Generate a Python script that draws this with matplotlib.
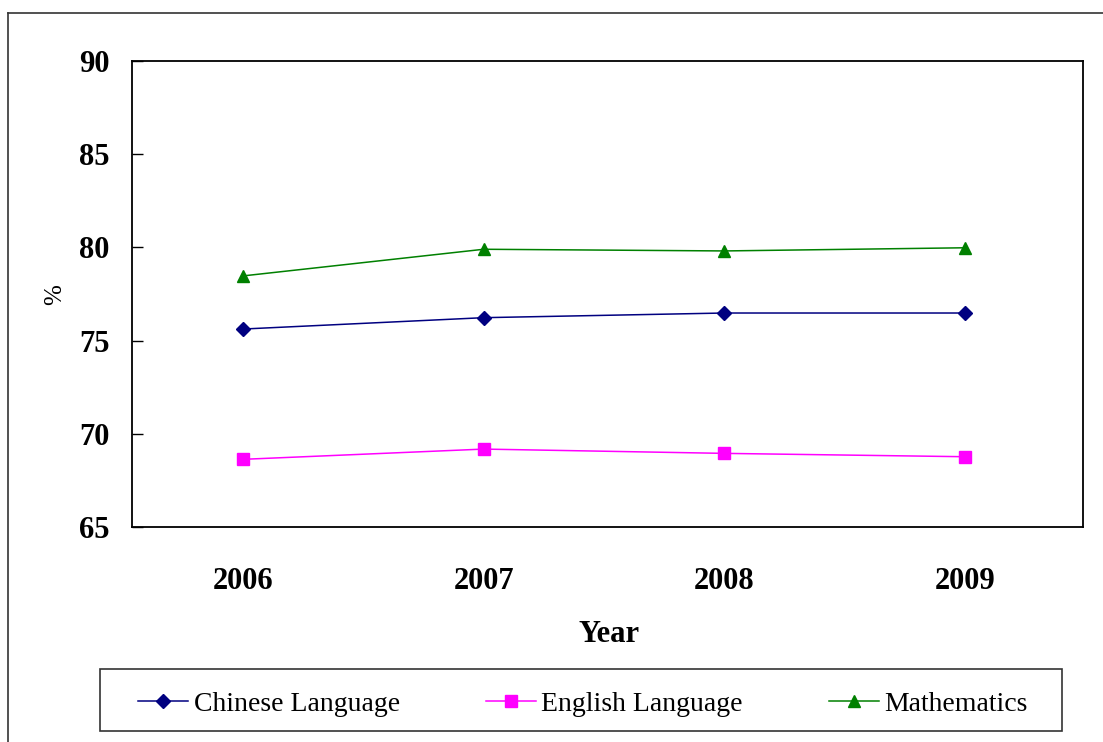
import matplotlib
matplotlib.use("Agg")
import matplotlib.pyplot as plt
from matplotlib.lines import Line2D
from matplotlib.patches import Rectangle

years = ["2006", "2007", "2008", "2009"]
chinese = [75.62, 76.23, 76.48, 76.48]
english = [68.63, 69.18, 68.95, 68.77]
maths = [78.47, 79.90, 79.81, 79.98]
yticks = [65, 70, 75, 80, 85, 90]

plt.rcParams['font.family'] = ['Liberation Serif', 'DejaVu Serif']

W, H = 1103, 742
fig = plt.figure(figsize=(W / 100, H / 100), dpi=100)
ax = fig.add_axes([132 / W, 1 - 527 / H, (1083 - 132) / W, (527 - 61) / H])

x = list(range(len(years)))
ax.plot(x, chinese, color='#000080', lw=1.1, marker='D', ms=7.5, label='Chinese Language')
ax.plot(x, english, color='#FF00FF', lw=1.1, marker='s', ms=8, label='English Language')
ax.plot(x, maths, color='#008000', lw=1.1, marker='^', ms=9, label='Mathematics')

ax.set_ylim(65, 90)
ax.set_yticks(yticks)
ax.set_xlim(-0.461, 3.49)
ax.set_xticks(x)
ax.set_xticklabels(years)
for s in ax.spines.values():
    s.set_linewidth(1.3)
    s.set_color('black')
ax.tick_params(axis='y', direction='in', length=8, width=1, pad=16, labelsize=22)
ax.tick_params(axis='x', length=0, pad=29, labelsize=22)
for lab in ax.get_xticklabels() + ax.get_yticklabels():
    lab.set_fontweight('bold')

fig.text(609 / W, 1 - 634 / H, 'Year', ha='center', va='center', fontsize=22, fontweight='bold')
fig.text(55 / W, 1 - 295 / H, '%', ha='center', va='center', fontsize=18, rotation=90)

# legend box
fig.add_artist(Rectangle((100 / W, 1 - 731 / H), 962 / W, 62 / H, transform=fig.transFigure,
                         facecolor='white', edgecolor='#333333', lw=1.2, zorder=1))
leg = fig.legend(loc='center', ncol=3, bbox_to_anchor=(583 / W, 1 - 704 / H),
                 fontsize=20, frameon=False,
                 handlelength=1.8, handletextpad=0.2, columnspacing=3.1)
leg.set_zorder(2)

# outer frame
fig.add_artist(Line2D([8 / W, 8 / W], [1 - 13 / H, 0], transform=fig.transFigure, color='#333333', lw=1.2))
fig.add_artist(Line2D([8 / W, 1], [1 - 13 / H, 1 - 13 / H], transform=fig.transFigure, color='#333333', lw=1.2))

fig.savefig('out.png', dpi=100)
